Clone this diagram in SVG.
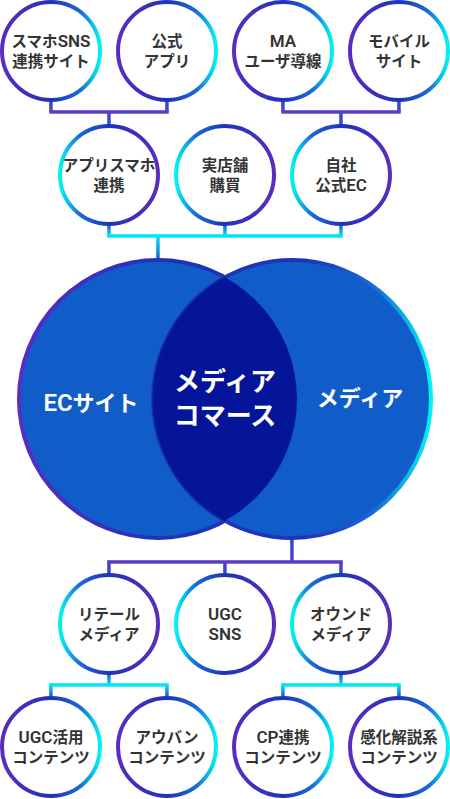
<svg xmlns="http://www.w3.org/2000/svg" width="450" height="799" viewBox="0 0 450 799">
<defs>
<linearGradient id="gPC" x1="0" y1="0" x2="1" y2="0">
<stop offset="0" stop-color="#5B2CC0"/><stop offset="0.5" stop-color="#1E33B8"/><stop offset="0.8" stop-color="#1A6AD8"/><stop offset="1" stop-color="#00F4F2"/>
</linearGradient>
<linearGradient id="gCP" x1="0" y1="0" x2="1" y2="0">
<stop offset="0" stop-color="#00F4F2"/><stop offset="0.2" stop-color="#1A6AD8"/><stop offset="0.5" stop-color="#1E33B8"/><stop offset="1" stop-color="#5B2CC0"/>
</linearGradient>
<linearGradient id="gVL" x1="0" y1="0" x2="1" y2="0">
<stop offset="0" stop-color="#5B2CC0"/><stop offset="0.5" stop-color="#1E33B8"/><stop offset="1" stop-color="#1E33B8"/>
</linearGradient>
<linearGradient id="gVR" x1="0" y1="0" x2="1" y2="0">
<stop offset="0" stop-color="#1E33B8"/><stop offset="0.55" stop-color="#1E33B8"/><stop offset="0.8" stop-color="#1A6AD8"/><stop offset="1" stop-color="#00F4F2"/>
</linearGradient>
<linearGradient id="vBP" x1="0" y1="0" x2="0" y2="1"><stop offset="0" stop-color="#1E4FD6"/><stop offset="1" stop-color="#5B3CC8"/></linearGradient>
<linearGradient id="vPB" x1="0" y1="0" x2="0" y2="1"><stop offset="0" stop-color="#5B3CC8"/><stop offset="1" stop-color="#1E4FD6"/></linearGradient>
<linearGradient id="vBC" x1="0" y1="0" x2="0" y2="1"><stop offset="0" stop-color="#1E4FD6"/><stop offset="1" stop-color="#00E6F2"/></linearGradient>
<linearGradient id="vCB" x1="0" y1="0" x2="0" y2="1"><stop offset="0" stop-color="#00E6F2"/><stop offset="1" stop-color="#1E4FD6"/></linearGradient>
<clipPath id="clipL"><circle cx="158" cy="399" r="139"/></clipPath>
</defs>
<style>
.n{fill:#fff;stroke-width:4}
.pc{stroke:url(#gPC)}
.cp{stroke:url(#gCP)}
.t{font-family:Roboto,"Noto Sans CJK JP","Noto Sans",sans-serif;font-weight:700;font-size:15.5px;fill:#333;text-anchor:middle}
.w{font-family:Roboto,"Noto Sans CJK JP","Noto Sans",sans-serif;font-weight:700;fill:#fff;text-anchor:middle}
.l{font-size:17px;font-weight:600}
.hp{fill:#5B3CC8}
.hc{fill:#00E6F2}
</style>
<g id="connectors">
<rect x="49.2" y="100" width="3.5" height="12" fill="url(#vBP)"/>
<rect x="165.2" y="100" width="3.5" height="12" fill="url(#vBP)"/>
<rect class="hp" x="49.2" y="110.2" width="119.5" height="3.5"/>
<rect x="107.2" y="112" width="3.5" height="13" fill="url(#vPB)"/>
<rect x="281.2" y="100" width="3.5" height="12" fill="url(#vBP)"/>
<rect x="397.2" y="100" width="3.5" height="12" fill="url(#vBP)"/>
<rect class="hp" x="281.2" y="110.2" width="119.5" height="3.5"/>
<rect x="339.2" y="112" width="3.5" height="13" fill="url(#vPB)"/>
<rect x="107.2" y="224" width="3.5" height="12" fill="url(#vBC)"/>
<rect x="223.2" y="224" width="3.5" height="12" fill="url(#vBC)"/>
<rect x="339.2" y="224" width="3.5" height="12" fill="url(#vBC)"/>
<rect class="hc" x="107.2" y="234.2" width="235.5" height="3.5"/>
<rect x="156.2" y="236" width="3.5" height="26" fill="url(#vCB)"/>
<rect x="290.2" y="536" width="3.5" height="26" fill="url(#vBP)"/>
<rect class="hp" x="107.2" y="560.2" width="235.5" height="3.5"/>
<rect x="107.2" y="562" width="3.5" height="13" fill="url(#vPB)"/>
<rect x="223.2" y="562" width="3.5" height="13" fill="url(#vPB)"/>
<rect x="339.2" y="562" width="3.5" height="13" fill="url(#vPB)"/>
<rect x="107.2" y="673" width="3.5" height="12" fill="url(#vBC)"/>
<rect class="hc" x="49.2" y="683.2" width="119.5" height="3.5"/>
<rect x="49.2" y="685" width="3.5" height="12" fill="url(#vCB)"/>
<rect x="165.2" y="685" width="3.5" height="12" fill="url(#vCB)"/>
<rect x="339.2" y="673" width="3.5" height="12" fill="url(#vBC)"/>
<rect class="hc" x="281.2" y="683.2" width="119.5" height="3.5"/>
<rect x="281.2" y="685" width="3.5" height="12" fill="url(#vCB)"/>
<rect x="397.2" y="685" width="3.5" height="12" fill="url(#vCB)"/>
</g>
<g id="venn">
<circle id="ec" cx="158" cy="399" r="139" fill="#105DCA" stroke="url(#gVL)" stroke-width="4"/>
<circle id="media" cx="292" cy="399" r="139" fill="#105DCA" stroke="url(#gVR)" stroke-width="4"/>
<circle cx="292" cy="399" r="139" fill="#05159A" stroke="#0A1E8E" stroke-width="1.5" clip-path="url(#clipL)"/>
<text class="w" x="91" y="411" font-size="22"><tspan font-size="24" font-weight="600">EC</tspan>サイト</text>
<text class="w" x="360" y="406" font-size="22">メディア</text>
<text class="w" x="225" y="391" font-size="26">メディア</text>
<text class="w" x="225" y="425" font-size="26">コマース</text>
</g>
<g id="n1"><circle class="n pc" cx="51" cy="51" r="49"/><text class="t" x="51" y="47">スマホ<tspan class="l">SNS</tspan></text><text class="t" x="51" y="67">連携サイト</text></g>
<g id="n2"><circle class="n pc" cx="167" cy="51" r="49"/><text class="t" x="167" y="47">公式</text><text class="t" x="167" y="67">アプリ</text></g>
<g id="n3"><circle class="n pc" cx="283" cy="51" r="49"/><text class="t" x="283" y="47"><tspan class="l">MA</tspan></text><text class="t" x="283" y="67">ユーザ導線</text></g>
<g id="n4"><circle class="n pc" cx="399" cy="51" r="49"/><text class="t" x="399" y="47">モバイル</text><text class="t" x="399" y="67">サイト</text></g>
<g id="n5"><circle class="n cp" cx="109" cy="175" r="49"/><text class="t" x="109" y="171">アプリスマホ</text><text class="t" x="109" y="191">連携</text></g>
<g id="n6"><circle class="n cp" cx="225" cy="175" r="49"/><text class="t" x="225" y="171">実店舗</text><text class="t" x="225" y="191">購買</text></g>
<g id="n7"><circle class="n cp" cx="341" cy="175" r="49"/><text class="t" x="341" y="171">自社</text><text class="t" x="341" y="191">公式<tspan class="l">EC</tspan></text></g>
<g id="n8"><circle class="n cp" cx="109" cy="624" r="49"/><text class="t" x="109" y="620">リテール</text><text class="t" x="109" y="640">メディア</text></g>
<g id="n9"><circle class="n cp" cx="225" cy="624" r="49"/><text class="t" x="225" y="620"><tspan class="l">UGC</tspan></text><text class="t" x="225" y="640"><tspan class="l">SNS</tspan></text></g>
<g id="n10"><circle class="n cp" cx="341" cy="624" r="49"/><text class="t" x="341" y="620">オウンド</text><text class="t" x="341" y="640">メディア</text></g>
<g id="n11"><circle class="n pc" cx="51" cy="747" r="49"/><text class="t" x="51" y="743"><tspan class="l">UGC</tspan>活用</text><text class="t" x="51" y="763">コンテンツ</text></g>
<g id="n12"><circle class="n pc" cx="167" cy="747" r="49"/><text class="t" x="167" y="743">アウバン</text><text class="t" x="167" y="763">コンテンツ</text></g>
<g id="n13"><circle class="n pc" cx="283" cy="747" r="49"/><text class="t" x="283" y="743"><tspan class="l">CP</tspan>連携</text><text class="t" x="283" y="763">コンテンツ</text></g>
<g id="n14"><circle class="n pc" cx="399" cy="747" r="49"/><text class="t" x="399" y="743">感化解説系</text><text class="t" x="399" y="763">コンテンツ</text></g>
</svg>
